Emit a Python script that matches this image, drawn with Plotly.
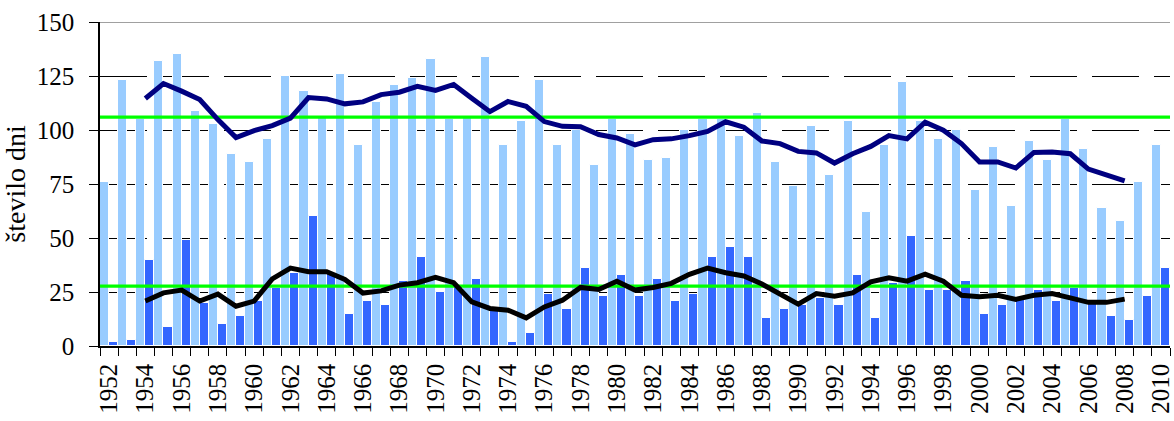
import plotly.graph_objects as go

years = list(range(1952, 2011))
tick_years = years[::2]
tick_labels = [str(y) for y in tick_years]

light_days = [76, 123, 105, 132, 135, 109, 103, 89, 85, 96,
              125, 118, 106, 126, 93, 113, 121, 124, 133, 105,
              106, 134, 93, 104, 123, 93, 100, 84, 105, 98,
              86, 87, 100, 105, 105, 97, 108, 85, 74, 102,
              79, 104, 62, 93, 122, 104, 96, 100, 72, 92,
              65, 95, 86, 105, 91, 64, 58, 76, 93]

dark_days = [2, 3, 40, 9, 49, 20, 10, 14, 21, 27,
             34, 60, 34, 15, 21, 19, 30, 41, 25, 28,
             31, 17, 2, 6, 24, 17, 36, 23, 33, 23,
             31, 21, 24, 41, 46, 41, 13, 17, 19, 22,
             19, 33, 13, 29, 51, 26, 26, 30, 15, 19,
             22, 26, 21, 27, 21, 14, 12, 23, 36]

ma_years = list(range(1954, 2009))
light_ma = [114.6, 121.5, 118.0, 114.1, 104.8, 96.5, 99.7, 102.0, 105.5, 115.0,
            114.4, 112.1, 113.0, 116.4, 117.5, 120.2, 118.3, 121.1, 114.7, 108.5,
            113.2, 111.0, 103.9, 101.7, 101.5, 97.9, 96.3, 93.1, 95.5, 95.9,
            97.4, 99.3, 103.8, 101.3, 94.9, 93.7, 90.1, 89.4, 84.7, 89.0,
            92.4, 97.4, 95.9, 103.6, 99.9, 93.7, 85.2, 85.2, 82.4, 89.6,
            89.8, 89.0, 81.9, 79.3, 76.5]
dark_ma = [20.8, 24.6, 25.9, 20.8, 24.0, 18.4, 20.8, 31.1, 36.1, 34.4,
           34.4, 30.8, 24.5, 25.5, 28.2, 29.3, 31.8, 29.3, 20.4, 17.4,
           16.6, 13.0, 18.1, 21.2, 27.1, 26.2, 30.0, 25.9, 27.1, 29.0,
           33.2, 36.1, 33.9, 32.4, 28.7, 24.3, 19.4, 24.3, 23.1, 24.6,
           29.7, 31.6, 30.0, 33.3, 30.0, 23.5, 22.8, 23.5, 21.6, 23.5,
           24.3, 22.3, 20.2, 20.2, 21.7]

light_mean = 106.0
dark_mean = 27.7

y_ticks = [0, 25, 50, 75, 100, 125, 150]

FONT = "Liberation Serif"
x_edges = [years[0] - 0.5, years[-1] + 0.5]

fig = go.Figure()
fig.add_trace(go.Bar(x=years, y=light_days, marker=dict(color="#99CCFF", line=dict(color="white", width=1)),
                     showlegend=False))
fig.add_trace(go.Bar(x=years, y=dark_days, marker=dict(color="#3366FF", line=dict(color="white", width=1)),
                     showlegend=False))
fig.add_trace(go.Scatter(x=x_edges, y=[light_mean, light_mean], mode="lines",
                         line=dict(color="#00FF00", width=3.2), showlegend=False))
fig.add_trace(go.Scatter(x=x_edges, y=[dark_mean, dark_mean], mode="lines",
                         line=dict(color="#00FF00", width=3.2), showlegend=False))
fig.add_trace(go.Scatter(x=ma_years, y=light_ma, mode="lines",
                         line=dict(color="#000080", width=5), showlegend=False))
fig.add_trace(go.Scatter(x=ma_years, y=dark_ma, mode="lines",
                         line=dict(color="#000000", width=5), showlegend=False))

fig.add_shape(type="line", xref="paper", x0=0, x1=1, yref="y", y0=y_ticks[-1], y1=y_ticks[-1],
              line=dict(color="#A0A0A0", width=2), layer="above")

fig.update_layout(
    width=1174, height=421,
    margin=dict(l=100, r=0, t=22, b=75),
    paper_bgcolor="white", plot_bgcolor="white",
    barmode="group", bargap=0, bargroupgap=0,
    font=dict(family=FONT, size=25, color="black"),
)
fig.update_xaxes(
    range=x_edges, tickmode="array", tickvals=tick_years, ticktext=tick_labels,
    tickangle=-90, ticks="", showgrid=False, zeroline=False,
    showline=True, linecolor="black", linewidth=1.5,
    ticklabelstandoff=6, ticklabeloverflow="allow",
    tickfont=dict(family=FONT, size=25, color="black"),
    minor=dict(tickmode="linear", tick0=years[0] - 0.5, dtick=1, ticks="outside",
               ticklen=8, tickcolor="black", tickwidth=1, showgrid=False),
)
fig.update_yaxes(
    range=[y_ticks[0], y_ticks[-1]], tickmode="array", tickvals=y_ticks,
    ticks="outside", ticklen=9, tickcolor="black", tickwidth=1,
    showline=True, linecolor="black", linewidth=1.5,
    showgrid=True, gridcolor="black", gridwidth=1, griddash="47px,15px",
    zeroline=False, ticklabelstandoff=10,
    tickfont=dict(family=FONT, size=25, color="black"),
    title=dict(text="število dni", font=dict(family=FONT, size=28, color="black"), standoff=6),
)

fig.write_html("out.html", config={"displayModeBar": False},
               post_script="document.body.style.margin='0';document.body.style.overflow='hidden';")
